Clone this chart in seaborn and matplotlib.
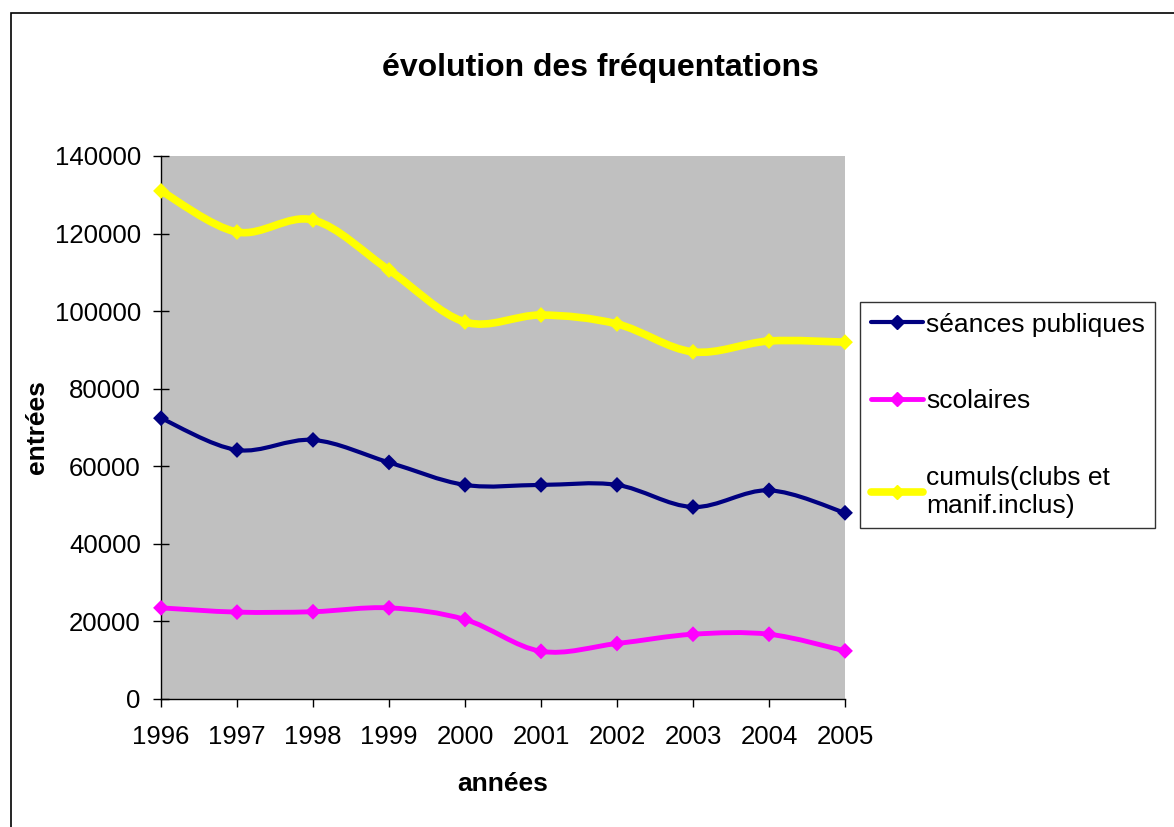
import numpy as np
import pandas as pd
import matplotlib
matplotlib.use('Agg')
import matplotlib.pyplot as plt
from matplotlib.path import Path
from matplotlib.patches import PathPatch, Rectangle
from matplotlib.lines import Line2D
import seaborn as sns

annees = [1996, 1997, 1998, 1999, 2000, 2001, 2002, 2003, 2004, 2005]
seances_publiques = [72400, 64200, 66800, 61000, 55200, 55200, 55200, 49500, 53800, 48000]
scolaires = [23500, 22400, 22500, 23500, 20500, 12300, 14300, 16700, 16700, 12400]
cumuls = [131000, 120400, 123500, 110600, 97200, 99000, 96700, 89500, 92300, 92000]

noms = ['séances publiques', 'scolaires', 'cumuls(clubs et\nmanif.inclus)']
couleurs = ['#000080', '#FF00FF', '#FFFF00']
epaisseurs = [3.0, 3.5, 5.5]

sns.set_style('white')
plt.rcParams['font.family'] = ['Liberation Sans', 'DejaVu Sans']
plt.rcParams['text.color'] = 'black'
plt.rcParams['xtick.color'] = 'black'
plt.rcParams['ytick.color'] = 'black'
plt.rcParams['axes.labelcolor'] = 'black'

df = pd.DataFrame({
    'annee': annees * 3,
    'entrees': seances_publiques + scolaires + cumuls,
    'serie': [noms[0]] * 10 + [noms[1]] * 10 + [noms[2]] * 10,
})

fig = plt.figure(figsize=(11.74, 8.27), dpi=100)
ax = fig.add_axes([161 / 1174, 1 - 699 / 827, (845 - 161) / 1174, (699 - 156) / 827])
ax.set_facecolor('#C0C0C0')

# courbes lissées (bezier type excel)
def courbe(x, y):
    pts = np.column_stack([x, y]).astype(float)
    n = len(pts)
    verts = [pts[0]]
    codes = [Path.MOVETO]
    for i in range(n - 1):
        p0 = pts[i - 1] if i > 0 else pts[i]
        p1 = pts[i]
        p2 = pts[i + 1]
        p3 = pts[i + 2] if i + 2 < n else pts[i + 1]
        c1 = p1 + (p2 - p0) / 6
        c2 = p2 - (p3 - p1) / 6
        verts += [c1, c2, p2]
        codes += [Path.CURVE4] * 3
    return Path(verts, codes)

for nom, col, lw in zip(noms, couleurs, epaisseurs):
    d = df[df['serie'] == nom]
    patch = PathPatch(courbe(d['annee'], d['entrees']), facecolor='none',
                      edgecolor=col, lw=lw, capstyle='round', joinstyle='round')
    ax.add_patch(patch)

sns.scatterplot(data=df, x='annee', y='entrees', hue='serie', palette=couleurs,
                marker='D', s=65, edgecolor='none', legend=False, ax=ax, clip_on=False, zorder=3)

ax.set_xlim(1996, 2005)
ax.set_ylim(0, 140000)
ax.set_xticks(annees)
ax.set_xticklabels([str(a) for a in annees])
ax.set_yticks(range(0, 140001, 20000))
ax.tick_params(axis='y', direction='inout', length=11, width=1, labelsize=18.5, pad=9)
ax.tick_params(axis='x', direction='out', length=6, width=1, labelsize=18.5, pad=13)
ax.tick_params(left=True, bottom=True)
for s in ['top', 'right']:
    ax.spines[s].set_visible(False)
for s in ['left', 'bottom']:
    ax.spines[s].set_color('black')
    ax.spines[s].set_linewidth(1)

ax.set_xlabel('années', fontsize=19, fontweight='bold', labelpad=16)
ax.set_ylabel('entrées', fontsize=19, fontweight='bold', labelpad=4)

fig.text(600 / 1174, 1 - 68 / 827, 'évolution des fréquentations', fontsize=23,
         fontweight='bold', ha='center', va='center')

poignees = [Line2D([0], [0], color=c, lw=w, marker='D', markersize=7, markeredgecolor=c)
            for c, w in zip(couleurs, epaisseurs)]
leg = fig.legend(poignees, noms, loc='upper left', bbox_to_anchor=(860 / 1174, 1 - 302 / 827),
                 fontsize=19, frameon=True, fancybox=False, edgecolor='black',
                 handlelength=2.0, handletextpad=0.1, labelspacing=2.0, borderpad=0.4,
                 borderaxespad=0)
leg.get_frame().set_linewidth(1)

fig.add_artist(Rectangle((11 / 1174, -0.1), 1.2, 1 - 13 / 827 + 0.1, transform=fig.transFigure,
                         fill=False, edgecolor='black', lw=1.2))

fig.savefig('out.png', dpi=100)
